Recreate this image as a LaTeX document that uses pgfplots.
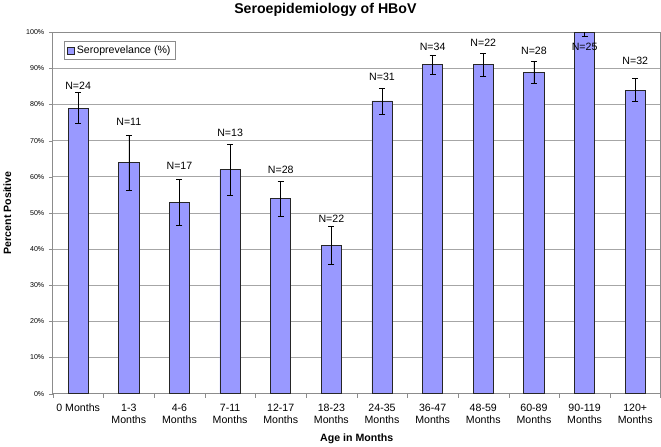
\documentclass[border=0pt]{standalone}
\usepackage{pgfplots}
\pgfplotsset{compat=1.18}
\usepackage{fontspec}
\setmainfont{Liberation Sans}
\definecolor{barfill}{HTML}{9999FF}
\definecolor{gridgray}{HTML}{A6A6A6}
\definecolor{axgray}{HTML}{8C8C8C}
\pgfplotstableread{
x y err
0 79 4.3
1 64 7.6
2 53 6.3
3 62 7.0
4 54 4.8
5 41 5.3
6 81 3.6
7 91 2.5
8 91 3.1
9 89 3.0
10 100 1.0
11 84 3.2
}\bardata
\pgfplotstableread{
x y label
0 85.3 N=24
1 75.2 N=11
2 63.1 N=17
3 72.1 N=13
4 61.8 N=28
5 48.5 N=22
6 87.6 N=31
7 96.0 N=34
8 97.1 N=22
9 94.8 N=28
10 96.0 N=25
11 92.2 N=32
}\labeldata
\begin{document}
\begin{tikzpicture}
\begin{axis}[
  width=602pt, height=358pt, scale only axis,
  xmin=-0.5, xmax=11.5, ymin=0, ymax=100,
  xtick={0,...,11},
  xticklabels={0 Months,1-3\\Months,4-6\\Months,7-11\\Months,12-17\\Months,18-23\\Months,24-35\\Months,36-47\\Months,48-59\\Months,60-89\\Months,90-119\\Months,120+\\Months},
  xticklabel style={align=center, font=\fontsize{10.5}{11.5}\selectfont, anchor=north, yshift=-3pt},
  major x tick style={draw=none},
  minor xtick={-0.5,0.5,...,11.5},
  minor x tick style={axgray},
  minor tick length=4pt,
  ytick={0,10,...,100},
  yticklabel={\pgfmathprintnumber{\tick}\%},
  /pgf/number format/assume math mode=true,
  yticklabel style={font=\fontsize{7}{8}\selectfont, xshift=-1pt},
  major y tick style={axgray},
  major tick length=4pt,
  tick align=outside,
  tick pos=left,
  ymajorgrids, major grid style={gridgray, line width=0.9pt},
  axis line style={axgray, line width=0.9pt},
  title={Seroepidemiology of HBoV},
  title style={font=\fontsize{14}{16}\selectfont\bfseries, yshift=6pt, xshift=-31pt},
  xlabel={Age in Months},
  xlabel style={font=\fontsize{10.5}{12}\selectfont\bfseries, yshift=-3pt},
  ylabel={Percent Positive},
  ylabel style={font=\fontsize{10.5}{12}\selectfont\bfseries, yshift=8pt},
  legend style={at={(axis description cs:0,1)}, xshift=11pt, yshift=-9pt, anchor=north west, draw=axgray, line width=0.6pt,
    font=\fontsize{10.5}{12}\selectfont, inner xsep=3pt, inner ysep=2pt},
  legend image code/.code={\draw[#1, line width=0.5pt] (0pt,-3.5pt) rectangle (7pt,3.5pt);},
]
\addplot[ybar, bar width=20pt, fill=barfill, draw=black!85, line width=0.7pt,
  error bars/.cd, y dir=both, y explicit,
  error bar style={black, line width=0.6pt},
  error mark options={rotate=90, mark size=3pt, line width=0.6pt}]
  table[x=x, y=y, y error=err] {\bardata};
\addlegendentry{Seroprevelance (\%)}
\addplot[draw=none, forget plot, nodes near coords, point meta=explicit symbolic,
  every node near coord/.style={anchor=center, font=\fontsize{10.5}{12}\selectfont, inner sep=0pt}]
  table[x=x, y=y, meta=label] {\labeldata};
\end{axis}
\end{tikzpicture}
\end{document}
